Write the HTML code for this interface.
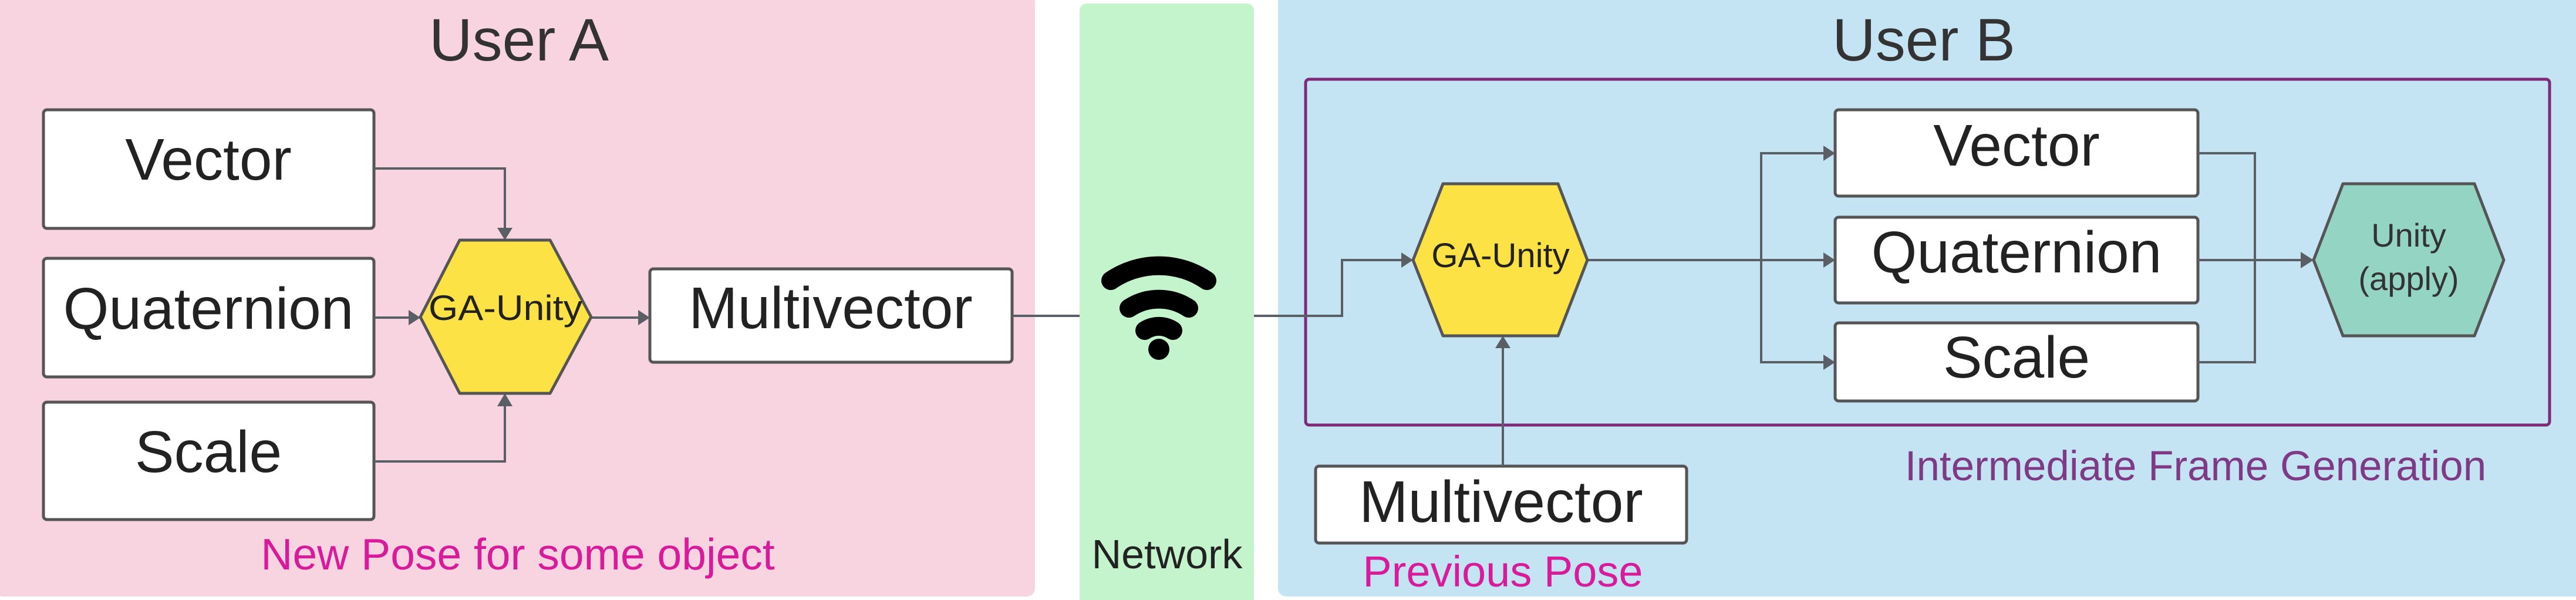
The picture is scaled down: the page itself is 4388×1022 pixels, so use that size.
<!DOCTYPE html>
<html><head><meta charset="utf-8"><style>
html,body{margin:0;padding:0;background:#fff;}
svg{display:block;}
text{font-family:"Liberation Sans",sans-serif;}
</style></head><body>
<svg width="4388" height="1022" viewBox="0 0 4388 1022" xmlns="http://www.w3.org/2000/svg">
<!-- panels -->
<rect x="-10" y="-10" width="1773" height="1026" rx="14" fill="#f8d3e0"/>
<rect x="1839" y="6" width="297" height="1030" rx="12" fill="#c4f4cc"/>
<rect x="2177" y="-10" width="2230" height="1026" rx="14" fill="#c4e4f4"/>

<text x="884" y="103" font-size="102" fill="#333" text-anchor="middle">User A</text>
<text x="3277" y="103" font-size="102" fill="#333" text-anchor="middle">User B</text>

<!-- purple frame -->
<rect x="2224" y="135" width="2119" height="589" rx="6" fill="none" stroke="#7e2a78" stroke-width="5"/>

<g fill="#fff" stroke="#555" stroke-width="5">
<rect x="74" y="187" width="563" height="202" rx="6"/>
<rect x="74" y="440" width="563" height="202" rx="6"/>
<rect x="74" y="685" width="563" height="200" rx="6"/>
<rect x="1107" y="458" width="617" height="159" rx="6"/>
<rect x="3126" y="187" width="618" height="147" rx="6"/>
<rect x="3126" y="370" width="618" height="146" rx="6"/>
<rect x="3126" y="550" width="618" height="133" rx="6"/>
<rect x="2241" y="794" width="632" height="131" rx="6"/>
</g>

<!-- connectors -->
<g fill="none" stroke="#5a5f66" stroke-width="4">
<path d="M637 287 H860 V390"/>
<path d="M637 786 H860 V690"/>
<path d="M637 541 H698"/>
<path d="M1007 541 H1090"/>
<path d="M1724 538 H1839"/>
<path d="M2136 538 H2286 V443 H2390"/>
<path d="M2560 794 V590"/>
<path d="M2704 443 H3108"/>
<path d="M3000 443 V261 H3108"/>
<path d="M3000 443 V617 H3108"/>
<path d="M3744 261 H3841 V443"/>
<path d="M3744 617 H3841 V443"/>
<path d="M3744 443 H3922"/>
</g>
<g fill="#5a5f66">
<polygon points="847,388 873,388 860,409"/>
<polygon points="847,692 873,692 860,670"/>
<polygon points="696,528 696,554 716,541"/>
<polygon points="1087,528 1087,554 1107,541"/>
<polygon points="2387,430 2387,456 2407,443"/>
<polygon points="2547,593 2573,593 2560,572"/>
<polygon points="3106,248 3106,274 3126,261"/>
<polygon points="3106,430 3106,456 3126,443"/>
<polygon points="3106,604 3106,630 3126,617"/>
<polygon points="3919,429 3919,457 3941,443"/>
</g>

<!-- hexagons -->
<polygon points="783,409 937,409 1007,540 937,670 783,670 716,540" fill="#fde245" stroke="#555" stroke-width="5" stroke-linejoin="round"/>
<polygon points="2458,313 2654,313 2704,443 2654,572 2458,572 2407,443" fill="#fde245" stroke="#555" stroke-width="5" stroke-linejoin="round"/>
<polygon points="3991,313 4215,313 4265,443 4215,572 3991,572 3941,443" fill="#93d5c2" stroke="#555" stroke-width="5" stroke-linejoin="round"/>

<!-- labels -->
<g fill="#222" text-anchor="middle" font-size="100">
<text x="355" y="306">Vector</text>
<text x="355" y="560">Quaternion</text>
<text x="355" y="804">Scale</text>
<text x="1415" y="559">Multivector</text>
<text x="3435" y="282">Vector</text>
<text x="3435" y="464">Quaternion</text>
<text x="3435" y="643">Scale</text>
<text x="2557" y="889">Multivector</text>
</g>
<text x="861" y="545" font-size="60" fill="#222" text-anchor="middle" textLength="262" lengthAdjust="spacingAndGlyphs">GA-Unity</text>
<text x="2556" y="455" font-size="58" fill="#222" text-anchor="middle">GA-Unity</text>
<text x="4103" y="420" font-size="56" fill="#333" text-anchor="middle">Unity</text>
<text x="4103" y="494" font-size="56" fill="#333" text-anchor="middle">(apply)</text>

<text x="882" y="970" font-size="75" fill="#d81b9b" text-anchor="middle">New Pose for some object</text>
<text x="2560" y="999" font-size="74" fill="#d81b9b" text-anchor="middle">Previous Pose</text>
<text x="3740" y="818" font-size="71" fill="#7f3a85" text-anchor="middle">Intermediate Frame Generation</text>
<text x="1988" y="968" font-size="70" fill="#222" text-anchor="middle">Network</text>

<!-- wifi -->
<g fill="none" stroke="#000" stroke-width="32" stroke-linecap="round">
<path d="M1892 478 A145 145 0 0 1 2056 478"/>
<path d="M1923 525 A92 92 0 0 1 2025 525"/>
<path d="M1950 563 A44 44 0 0 1 1998 563"/>
</g>
<circle cx="1974" cy="595" r="18" fill="#000"/>
</svg>
</body></html>
